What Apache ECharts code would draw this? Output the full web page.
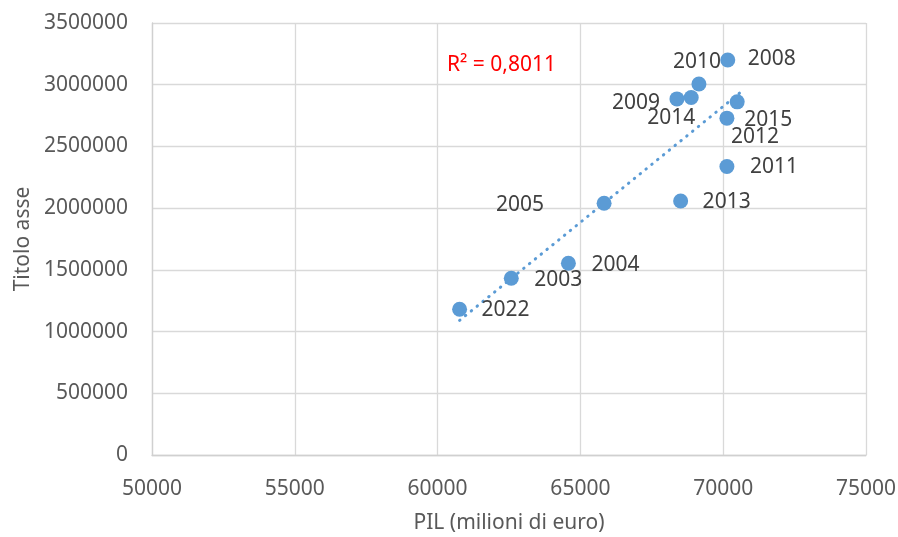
<!DOCTYPE html>
<html>
<head>
<meta charset="utf-8">
<script src="https://cdn.jsdelivr.net/npm/echarts@6/dist/echarts.min.js"></script>
<style>
  html, body { margin: 0; padding: 0; background: #fff; }
  #chart { width: 898px; height: 537px; }
</style>
</head>
<body>
<div id="chart"></div>
<script>
// Anni, PIL (milioni di euro) e valore sull'asse verticale
const anni = ['2003', '2004', '2005', '2008', '2009', '2010', '2011', '2012', '2013', '2014', '2015', '2022'];
const pil = [62580, 64580, 65830, 70160, 68380, 69150, 70130, 70130, 68510, 68880, 70490, 60770];
const valori = [1432000, 1553000, 2040000, 3200000, 2885000, 3006000, 2337000, 2729000, 2058000, 2896000, 2861000, 1181000];
const xTicks = [50000, 55000, 60000, 65000, 70000, 75000];
const yTicks = [0, 500000, 1000000, 1500000, 2000000, 2500000, 3000000, 3500000];
const r2Testo = 'R² = 0,8011';

// Placement of each year's label relative to its point (pixels)
const labelOffsets = {
  '2003': [47, 2], '2004': [47, 2], '2005': [-84, 2], '2008': [44, -1],
  '2009': [-41, 4], '2010': [-2, -22], '2011': [47, 0], '2012': [28, 19],
  '2013': [46, 1], '2014': [-20, 20], '2015': [31, 18], '2022': [46, 1]
};

// Least-squares linear trend, drawn a little past the last point
const trendForward = 200;
const n = pil.length;
const mx = pil.reduce((a, b) => a + b, 0) / n;
const my = valori.reduce((a, b) => a + b, 0) / n;
let sxy = 0, sxx = 0;
for (let i = 0; i < n; i++) {
  sxy += (pil[i] - mx) * (valori[i] - my);
  sxx += (pil[i] - mx) * (pil[i] - mx);
}
const slope = sxy / sxx;
const intercept = my - slope * mx;
const xMin = Math.min(...pil), xMax = Math.max(...pil) + trendForward;
const trend = [[xMin, intercept + slope * xMin], [xMax, intercept + slope * xMax]];

const FONT = 'Noto Sans';
const FS = 21;
const points = pil.map((x, i) => ({
  value: [x, valori[i]],
  label: { offset: labelOffsets[anni[i]] }
}));

const chart = echarts.init(document.getElementById('chart'), null, { renderer: 'canvas' });
chart.setOption({
  animation: false,
  textStyle: { fontFamily: FONT },
  grid: { left: 152, right: 32, top: 23, bottom: 82, containLabel: false, outerBoundsMode: 'none' },
  xAxis: {
    type: 'value', min: xTicks[0], max: xTicks[xTicks.length - 1], interval: 5000,
    name: 'PIL (milioni di euro)', nameLocation: 'middle', nameGap: 58,
    nameTextStyle: { color: '#595959', fontSize: FS, fontFamily: FONT },
    axisLine: { show: true, lineStyle: { color: '#d0d0d0', width: 1.3 } },
    axisTick: { show: false },
    axisLabel: { color: '#595959', fontSize: FS, margin: 24, fontFamily: FONT, formatter: v => String(v) },
    splitLine: { show: true, lineStyle: { color: '#d9d9d9', width: 1.3 } }
  },
  yAxis: {
    type: 'value', min: yTicks[0], max: yTicks[yTicks.length - 1], interval: 500000,
    name: 'Titolo asse', nameLocation: 'middle', nameGap: 118, nameRotate: 90,
    nameTextStyle: { color: '#595959', fontSize: FS, fontFamily: FONT },
    axisLine: { show: true, lineStyle: { color: '#d0d0d0', width: 1.3 } },
    axisTick: { show: false },
    axisLabel: { color: '#595959', fontSize: FS, margin: 24, fontFamily: FONT, formatter: v => String(v) },
    splitLine: { show: true, lineStyle: { color: '#d9d9d9', width: 1.3 } }
  },
  series: [
    {
      type: 'line', data: trend, symbol: 'none', z: 1,
      lineStyle: { color: '#5b9bd5', width: 3, type: [0.5, 7], cap: 'round' }
    },
    {
      type: 'scatter', data: points, symbolSize: 15, z: 3,
      itemStyle: { color: '#5b9bd5', opacity: 1 },
      label: {
        show: true, position: 'inside', align: 'center', verticalAlign: 'middle',
        color: '#404040', fontSize: FS, fontFamily: FONT,
        formatter: p => anni[p.dataIndex]
      }
    }
  ],
  graphic: [{
    type: 'text', left: 447, top: 55,
    style: { text: r2Testo, fill: '#ff0000', fontSize: FS, fontFamily: FONT }
  }]
});
</script>
</body>
</html>
